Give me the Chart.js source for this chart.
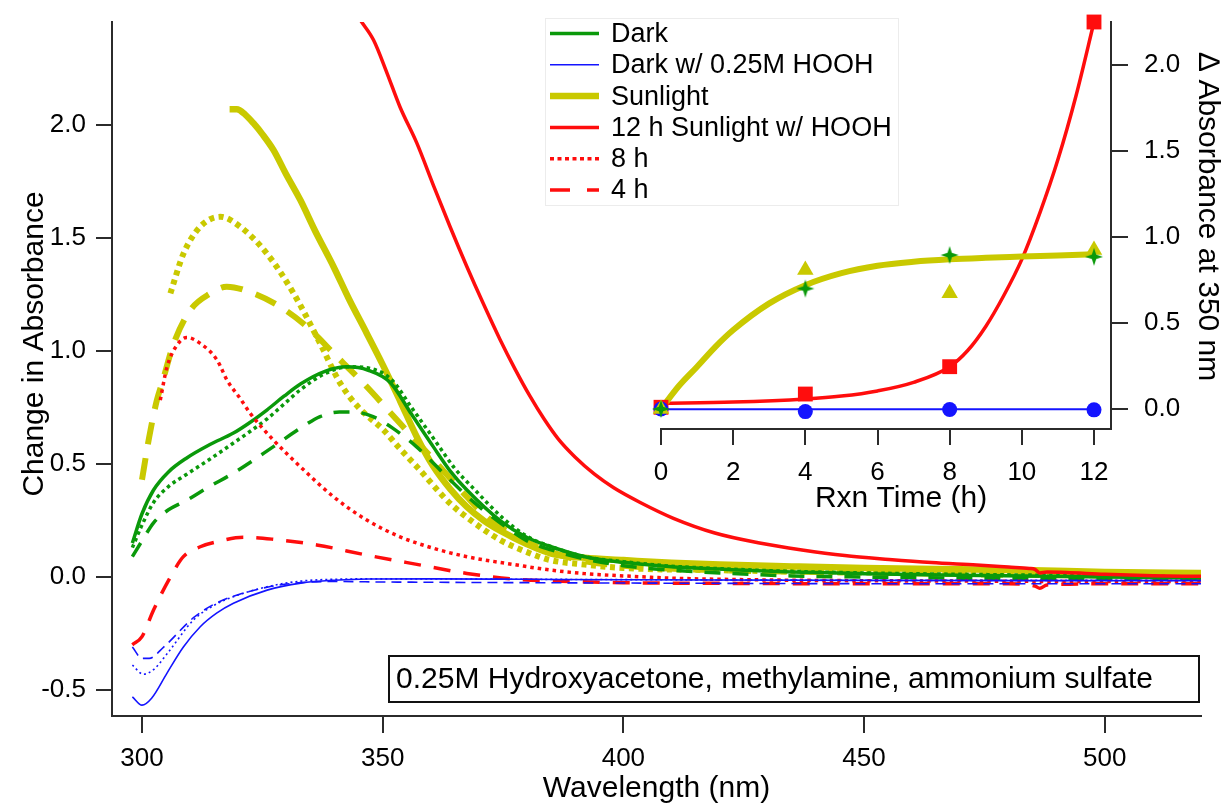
<!DOCTYPE html>
<html>
<head>
<meta charset="utf-8">
<title>Absorbance change</title>
<script src="https://cdn.jsdelivr.net/npm/chart.js@4.4.1/dist/chart.umd.min.js"></script>
<style>
  html, body { margin: 0; padding: 0; background: #fff; }
  #wrap  { position: relative; width: 1224px; height: 807px; }
  #main  { position: absolute; left: 0; top: 0; }
  #inset { position: absolute; left: 600px; top: 0; }
</style>
</head>
<body>
<div id="wrap">
  <canvas id="main" width="1224" height="807"></canvas>
  <canvas id="inset" width="624" height="520"></canvas>
</div>
<script>
/* ---------- spectra: wavelength (nm) / change in absorbance ---------- */

// Dark
const darkWl12  = [298, 300, 302.4, 305.5, 309.3, 314, 319, 322.5, 326, 329.5, 333, 338, 342.5, 347, 351.6, 356, 360.5, 364, 367.5, 374.4, 380, 385, 392, 400, 410, 420, 435, 450, 470, 500, 520];
const darkAbs12 = [0.15, 0.28, 0.385, 0.465, 0.527, 0.585, 0.637, 0.685, 0.74, 0.80, 0.855, 0.91, 0.93, 0.915, 0.86, 0.72, 0.577, 0.47, 0.385, 0.25, 0.175, 0.134, 0.09, 0.065, 0.045, 0.035, 0.022, 0.015, 0.008, 0.0, -0.005];
const darkWl8   = [298, 300, 302.4, 305.5, 309.3, 314, 319, 322.5, 326, 329.5, 333, 338, 343, 348, 352, 356, 361, 365, 368.5, 375, 380, 385, 392, 400, 410, 420, 435, 450, 470, 500, 520];
const darkAbs8  = [0.13, 0.23, 0.33, 0.40, 0.455, 0.52, 0.593, 0.645, 0.70, 0.765, 0.83, 0.90, 0.93, 0.92, 0.87, 0.75, 0.60, 0.48, 0.40, 0.26, 0.18, 0.135, 0.09, 0.068, 0.048, 0.037, 0.025, 0.018, 0.012, 0.005, 0.0];
const darkWl4   = [298, 300, 302.4, 305, 309.3, 314, 319, 327.3, 333, 337, 341, 344, 348, 352, 357, 364, 369, 374.4, 380, 385, 392, 400, 410, 420, 435, 450, 470, 500, 520];
const darkAbs4  = [0.09, 0.16, 0.24, 0.29, 0.34, 0.40, 0.46, 0.577, 0.66, 0.71, 0.73, 0.73, 0.71, 0.66, 0.577, 0.43, 0.33, 0.24, 0.16, 0.12, 0.08, 0.05, 0.03, 0.018, 0.005, 0.0, -0.005, -0.01, -0.01];

// Dark w/ 0.25M HOOH
const hoohWl12  = [298, 300, 302, 305.2, 308.6, 312.1, 315.5, 319, 326, 333, 340, 347, 360, 380, 400, 450, 500, 520];
const hoohAbs12 = [-0.53, -0.567, -0.536, -0.425, -0.31, -0.22, -0.16, -0.116, -0.058, -0.027, -0.014, -0.009, -0.008, -0.01, -0.012, -0.015, -0.016, -0.016];
const hoohWl8   = [298, 300.3, 302.4, 305.2, 310.7, 315, 319, 326, 333, 340, 350, 380, 420, 470, 520];
const hoohAbs8  = [-0.39, -0.43, -0.41, -0.34, -0.19, -0.125, -0.087, -0.043, -0.018, -0.01, -0.008, -0.01, -0.013, -0.015, -0.015];
const hoohWl4   = [298, 300, 301.5, 304.5, 310.7, 315, 319, 326, 333, 340, 350, 380, 420, 470, 520];
const hoohAbs4  = [-0.31, -0.36, -0.36, -0.31, -0.18, -0.12, -0.085, -0.045, -0.025, -0.02, -0.022, -0.025, -0.028, -0.03, -0.03];

// Sunlight
const sunWl12   = [318.2, 319.7, 321.5, 323.2, 325, 327.3, 330, 332.9, 336, 339.8, 343, 346.7, 350, 353.6, 357.1, 360.5, 364, 367.5, 371, 374.4, 380, 384.8, 392, 400, 410, 420, 435, 450, 470, 485, 500, 520];
const sunAbs12  = [2.07, 2.07, 2.045, 2.007, 1.96, 1.89, 1.78, 1.668, 1.53, 1.373, 1.23, 1.078, 0.94, 0.78, 0.62, 0.49, 0.39, 0.31, 0.25, 0.205, 0.145, 0.105, 0.085, 0.075, 0.063, 0.055, 0.047, 0.04, 0.034, 0.03, 0.022, 0.018];
const sunWl8    = [305.9, 308.6, 312.1, 316.3, 320.4, 326, 331.5, 337, 341.2, 345, 350.2, 353.5, 357.1, 364, 369, 374.4, 380, 384.8, 392, 400, 420, 450, 480, 520];
const sunAbs8   = [1.255, 1.43, 1.55, 1.594, 1.55, 1.43, 1.255, 1.034, 0.857, 0.75, 0.65, 0.57, 0.488, 0.326, 0.24, 0.164, 0.11, 0.075, 0.055, 0.04, 0.03, 0.02, 0.015, 0.012];
const sunWl4    = [300, 301.5, 303.1, 304.2, 306.6, 310, 314.2, 317.6, 323.2, 328.7, 334.3, 339.8, 346.7, 353.6, 360.6, 367.5, 372, 377.9, 385, 392, 400, 420, 450, 480, 520];
const sunAbs4   = [0.43, 0.62, 0.783, 0.86, 1.034, 1.18, 1.255, 1.285, 1.255, 1.196, 1.107, 0.99, 0.842, 0.68, 0.518, 0.355, 0.26, 0.178, 0.11, 0.07, 0.05, 0.03, 0.02, 0.01, 0.005];

// Sunlight w/ HOOH
const sunHoohWl12  = [345.5, 348.1, 350.9, 353.6, 357.1, 360.6, 364, 367.5, 370.9, 374.4, 377.5, 380.6, 383.5, 386.5, 390, 394, 398, 403.5, 410.4, 419, 428, 437.1, 446, 455.2, 464, 473.4, 480, 484.3, 485.5, 486.5, 488, 492, 500, 510, 520];
const sunHoohAbs12 = [2.46, 2.376, 2.23, 2.08, 1.92, 1.73, 1.55, 1.373, 1.21, 1.05, 0.92, 0.80, 0.70, 0.61, 0.53, 0.455, 0.395, 0.33, 0.26, 0.195, 0.152, 0.12, 0.095, 0.078, 0.064, 0.053, 0.044, 0.038, 0.034, 0.018, 0.022, 0.02, 0.012, 0.006, 0.003];
const sunHoohWl8   = [303.8, 305.2, 307.3, 309.3, 312.1, 315.6, 317.7, 320.4, 322.5, 327.3, 332.9, 339.8, 346.7, 353.6, 360.6, 367.5, 377.9, 384.8, 392, 400, 410, 420, 440, 470, 500, 520];
const sunHoohAbs8  = [0.783, 0.93, 1.027, 1.06, 1.034, 0.96, 0.87, 0.79, 0.724, 0.606, 0.488, 0.355, 0.252, 0.178, 0.127, 0.09, 0.053, 0.031, 0.015, 0.005, -0.005, -0.01, -0.015, -0.018, -0.02, -0.02];
const sunHoohWl4   = [298, 300, 302.4, 305.9, 308.6, 312.1, 315.6, 321.1, 327.3, 336.3, 346.7, 357.1, 367.5, 377.9, 390, 400, 420, 450, 480, 485.5, 486.5, 488, 500, 520];
const sunHoohAbs4  = [-0.30, -0.264, -0.146, 0.0, 0.09, 0.134, 0.156, 0.176, 0.167, 0.142, 0.097, 0.056, 0.016, -0.01, -0.02, -0.025, -0.028, -0.03, -0.03, -0.04, -0.05, -0.035, -0.03, -0.03];

const wlTicks  = [300, 350, 400, 450, 500];
const absTicks = [-0.5, 0, 0.5, 1.0, 1.5, 2.0];

const legendLabels = ['Dark', 'Dark w/ 0.25M HOOH', 'Sunlight', '12 h Sunlight w/ HOOH', '8 h', '4 h'];
const noteText = '0.25M Hydroxyacetone, methylamine, ammonium sulfate';

/* ---------- inset: change at 350 nm vs reaction time ---------- */

const rxnTime      = [0, 4, 8, 12];
const darkAt350    = [0, 0.70, 0.895, 0.885];
const sunAt350     = [0, 0.808, 0.673, 0.924];
const hoohAt350    = [0, -0.015, -0.003, -0.005];
const sunHoohAt350 = [0.01, 0.087, 0.246, 2.25];

const sunFitT      = [0, 0.5, 1, 1.5, 2, 3, 4, 5, 6, 7, 8, 9, 10, 11, 12];
const sunFitV      = [0, 0.135, 0.246, 0.36, 0.459, 0.614, 0.72, 0.79, 0.833, 0.856, 0.870, 0.879, 0.886, 0.893, 0.90];
const sunHoohFitT  = [0, 2, 4, 5, 6, 7, 8, 8.5, 9, 9.5, 10, 10.5, 11, 11.5, 12];
const sunHoohFitV  = [0.033, 0.04, 0.058, 0.075, 0.105, 0.155, 0.246, 0.34, 0.48, 0.66, 0.87, 1.14, 1.45, 1.82, 2.25];
const hoohFitT     = [0, 12];
const hoohFitV     = [-0.002, -0.002];

const timeTicks  = [0, 2, 4, 6, 8, 10, 12];
const deltaTicks = [0, 0.5, 1.0, 1.5, 2.0];

/* ---------- styling ---------- */

const GREEN  = '#0a990a';
const BLUE   = '#1414ff';
const YELLOW = '#c9c900';
const RED    = '#ff0d0d';
const AXIS   = '#2b2b2b';
const FONT   = "'Liberation Sans', Arial, Helvetica, sans-serif";

Chart.defaults.font.family = FONT;
Chart.defaults.color = '#000';

function pts(xs, ys) {
  return xs.map((x, i) => ({ x, y: ys[i] }));
}

function spectrum(wl, abs, color, width, dash) {
  return {
    data: pts(wl, abs),
    borderColor: color,
    borderWidth: width,
    borderDash: dash,
    borderJoinStyle: 'round',
    pointRadius: 0,
    fill: false,
    cubicInterpolationMode: 'monotone',
  };
}

function fixedTicks(list) {
  return scale => { scale.ticks = list.map(v => ({ value: v })); };
}

// vertical scales reserve half a label above/below the end ticks; not wanted here
function fixedWidth(w) {
  return scale => { scale.width = w; scale.paddingTop = 0; scale.paddingBottom = 0; };
}

function axisStyle(tickLen) {
  return {
    border: { display: true, color: AXIS, width: 2 },
    grid: {
      drawOnChartArea: false, drawTicks: true,
      tickLength: tickLen, tickColor: AXIS, tickWidth: 2,
      color: AXIS, lineWidth: 2,
    },
  };
}

// free-standing axis captions, placed by hand
function captions(list) {
  return {
    id: 'captions',
    afterDraw(chart) {
      const ctx = chart.ctx;
      ctx.save();
      ctx.fillStyle = '#000';
      ctx.font = '30px ' + FONT;
      ctx.textAlign = 'center';
      ctx.textBaseline = 'middle';
      list.forEach(c => {
        ctx.save();
        ctx.translate(c.x, c.y);
        ctx.rotate(c.rot || 0);
        ctx.fillText(c.text, 0, 0);
        ctx.restore();
      });
      ctx.restore();
    },
  };
}

/* ---------- main spectra chart ---------- */

const mainSets = [
  spectrum(hoohWl12, hoohAbs12, BLUE, 1.6, []),
  spectrum(hoohWl8,  hoohAbs8,  BLUE, 1.6, [2, 3]),
  spectrum(hoohWl4,  hoohAbs4,  BLUE, 1.6, [10, 6]),
  spectrum(sunHoohWl12, sunHoohAbs12, RED, 3.5, []),
  spectrum(sunHoohWl8,  sunHoohAbs8,  RED, 3.5, [3.5, 4]),
  spectrum(sunHoohWl4,  sunHoohAbs4,  RED, 3.5, [17, 13]),
  spectrum(darkWl12, darkAbs12, GREEN, 3.5, []),
  spectrum(darkWl8,  darkAbs8,  GREEN, 3.5, [3.5, 3.5]),
  spectrum(darkWl4,  darkAbs4,  GREEN, 3.5, [16, 12]),
  spectrum(sunWl12, sunAbs12, YELLOW, 6.5, []),
  spectrum(sunWl8,  sunAbs8,  YELLOW, 6, [5, 4.5]),
  spectrum(sunWl4,  sunAbs4,  YELLOW, 6, [22, 14]),
];

// which dataset supplies the line sample for each legend row
const legendSource = [6, 0, 9, 3, 4, 5];

const legendAndNote = {
  id: 'legendAndNote',
  afterDatasetsDraw(chart) {
    const ctx = chart.ctx;
    ctx.save();

    /* legend box */
    ctx.fillStyle = '#fff';
    ctx.fillRect(545, 18, 353, 187);
    ctx.strokeStyle = '#ececec';
    ctx.lineWidth = 1;
    ctx.strokeRect(545.5, 18.5, 353, 187);

    ctx.font = '27px ' + FONT;
    ctx.textBaseline = 'middle';
    ctx.textAlign = 'left';
    legendLabels.forEach((label, i) => {
      const ds = chart.data.datasets[legendSource[i]];
      const y = 33.5 + i * 31.3;
      ctx.strokeStyle = ds.borderColor;
      ctx.lineWidth = ds.borderWidth;
      ctx.setLineDash(ds.borderDash.length ? (ds.borderDash[0] > 10 ? [20, 17] : [4, 3.5]) : []);
      ctx.beginPath();
      ctx.moveTo(550, y);
      ctx.lineTo(599, y);
      ctx.stroke();
      ctx.setLineDash([]);
      ctx.fillStyle = '#000';
      ctx.fillText(label, 611, y + 1);
    });

    /* sample note */
    ctx.fillStyle = '#fff';
    ctx.fillRect(389, 656, 810, 46);
    ctx.strokeStyle = '#111';
    ctx.lineWidth = 2;
    ctx.strokeRect(389, 656, 810, 46);
    ctx.fillStyle = '#000';
    ctx.font = '30px ' + FONT;
    ctx.fillText(noteText, 396, 680);
    ctx.restore();
  },
};

new Chart(document.getElementById('main'), {
  type: 'line',
  data: { datasets: mainSets },
  options: {
    responsive: false,
    animation: false,
    events: [],
    layout: { padding: { top: 22, right: 23, left: 0, bottom: 0 } },
    plugins: { legend: { display: false }, tooltip: { enabled: false } },
    scales: {
      x: {
        type: 'linear',
        min: 293.77,
        max: 520.0,
        ...axisStyle(17),
        afterBuildTicks: fixedTicks(wlTicks),
        afterFit: s => { s.height = 91; },
        ticks: { font: { size: 26 }, padding: 10, maxRotation: 0, includeBounds: false },
        title: { display: true, text: 'Wavelength (nm)', font: { size: 30 }, padding: { top: 0, bottom: 0 } },
      },
      y: {
        type: 'linear',
        min: -0.615,
        max: 2.456,
        ...axisStyle(16),
        afterBuildTicks: fixedTicks(absTicks),
        afterFit: fixedWidth(112),
        ticks: { font: { size: 26 }, padding: 10, includeBounds: false, callback: v => v.toFixed(1) },
      },
    },
  },
  plugins: [legendAndNote, captions([
    { text: 'Change in Absorbance', x: 35, y: 344, rot: -Math.PI / 2 },
  ])],
});

/* ---------- inset chart ---------- */

function starMarker(color, r) {
  const c = document.createElement('canvas');
  const s = Math.ceil(r * 2 + 2);
  c.width = c.height = s;
  const g = c.getContext('2d');
  const m = s / 2;
  g.beginPath();
  for (let k = 0; k < 8; k++) {
    const a = k * Math.PI / 4 - Math.PI / 2;
    const rr = k % 2 ? r * 0.34 : r;
    g.lineTo(m + rr * Math.cos(a), m + rr * Math.sin(a));
  }
  g.closePath();
  g.fillStyle = color;
  g.fill();
  return c;
}

function fitLine(t, v, color, width) {
  return {
    data: pts(t, v), borderColor: color, borderWidth: width,
    pointRadius: 0, fill: false, cubicInterpolationMode: 'monotone', clip: false,
  };
}

function markers(t, v, color, style, radius) {
  return {
    data: pts(t, v), showLine: false, clip: false,
    pointStyle: style, pointRadius: radius,
    pointBackgroundColor: color, pointBorderColor: color, pointBorderWidth: 0,
  };
}

new Chart(document.getElementById('inset'), {
  type: 'line',
  data: {
    datasets: [
      markers(rxnTime, darkAt350, GREEN, starMarker(GREEN, 9), 9),
      markers(rxnTime, sunAt350, YELLOW, 'triangle', 9.5),
      markers(rxnTime, hoohAt350, BLUE, 'circle', 7.5),
      markers(rxnTime, sunHoohAt350, RED, 'rect', 10.5),
      fitLine(sunFitT, sunFitV, YELLOW, 6),
      fitLine(sunHoohFitT, sunHoohFitV, RED, 3.5),
      fitLine(hoohFitT, hoohFitV, BLUE, 2),
    ],
  },
  options: {
    responsive: false,
    animation: false,
    events: [],
    layout: { padding: { top: 22, left: 61, right: 0, bottom: 0 } },
    plugins: { legend: { display: false }, tooltip: { enabled: false } },
    scales: {
      x: {
        type: 'linear',
        min: 0,
        max: 12.471,
        ...axisStyle(16),
        afterBuildTicks: fixedTicks(timeTicks),
        afterFit: s => { s.height = 91; },
        ticks: { font: { size: 26 }, padding: 12, maxRotation: 0, includeBounds: false },
      },
      y: {
        type: 'linear',
        position: 'right',
        min: -0.1163,
        max: 2.25,
        ...axisStyle(17),
        afterBuildTicks: fixedTicks(deltaTicks),
        afterFit: fixedWidth(113),
        ticks: { font: { size: 26 }, padding: 16, includeBounds: false, callback: v => v.toFixed(1) },
      },
    },
  },
  plugins: [captions([
    { text: 'Rxn Time (h)', x: 301, y: 499 },
    { text: '\u2206 Absorbance at 350 nm', x: 607, y: 217, rot: Math.PI / 2 },
  ])],
});
</script>
</body>
</html>
